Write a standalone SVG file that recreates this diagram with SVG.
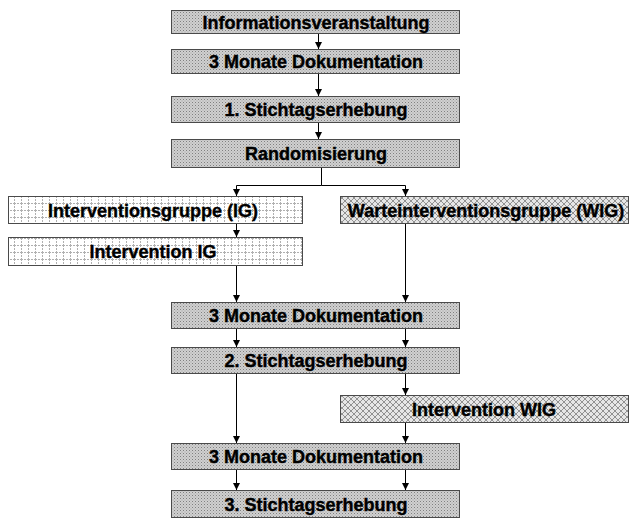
<svg xmlns="http://www.w3.org/2000/svg" width="629" height="519" viewBox="0 0 629 519">
<defs>
<pattern id="dots" width="3" height="3" patternUnits="userSpaceOnUse">
<rect width="3" height="3" fill="#d0d0d0"/>
<rect x="0" y="0" width="1" height="1" fill="#808080"/>
<rect x="1.5" y="1.5" width="1" height="1" fill="#a0a0a0"/>
</pattern>
<pattern id="grid" width="7" height="7" patternUnits="userSpaceOnUse">
<rect width="7" height="7" fill="#ffffff"/>
<path d="M0 0.5H7M0.5 0V7" stroke="#b0b0b0" stroke-width="1" stroke-dasharray="2 1"/>
</pattern>
<pattern id="cross" width="6" height="6" patternUnits="userSpaceOnUse">
<rect width="6" height="6" fill="#e6e6e6"/>
<path d="M0 0L6 6M6 0L0 6" stroke="#888888" stroke-width="0.9"/>
</pattern>
<marker id="ah" viewBox="0 0 10 10" refX="10" refY="5" markerWidth="7" markerHeight="7" markerUnits="userSpaceOnUse" orient="auto">
<path d="M0 0L10 5L0 10Z" fill="#000"/>
</marker>
<style>
.box{stroke:#4a4a4a;stroke-width:1}
.g{fill:url(#dots)}
.ig{fill:url(#grid)}
.wig{fill:url(#cross)}
text{font-family:"Liberation Sans",Arial,sans-serif;font-weight:bold;font-size:18px;fill:#000;text-anchor:middle;stroke:#000;stroke-width:0.4}
.c{fill:none;stroke:#000;stroke-width:1}
</style>
</defs>
<g id="n1"><rect class="box g" x="171.5" y="10.5" width="288" height="23"/><text x="316" y="28.5">Informationsveranstaltung</text></g>
<g id="n2"><rect class="box g" x="171.5" y="49.5" width="288" height="24"/><text x="316" y="68">3 Monate Dokumentation</text></g>
<g id="n3"><rect class="box g" x="171.5" y="96.5" width="288" height="26"/><text x="316" y="116">1. Stichtagserhebung</text></g>
<g id="n4"><rect class="box g" x="171.5" y="139.5" width="288" height="28"/><text x="316" y="160">Randomisierung</text></g>
<g id="n5"><rect class="box ig" x="8.5" y="196.5" width="294" height="27"/><text x="153" y="217">Interventionsgruppe (IG)</text></g>
<g id="n6"><rect class="box wig" x="340.5" y="196.5" width="288" height="27"/><text x="486" y="217">Warteinterventionsgruppe (WIG)</text></g>
<g id="n7"><rect class="box ig" x="8.5" y="237.5" width="294" height="28"/><text x="153" y="258">Intervention IG</text></g>
<g id="n8"><rect class="box g" x="171.5" y="302.5" width="288" height="26"/><text x="316" y="322">3 Monate Dokumentation</text></g>
<g id="n9"><rect class="box g" x="171.5" y="347.5" width="288" height="26"/><text x="316" y="367">2. Stichtagserhebung</text></g>
<g id="n10"><rect class="box wig" x="340.5" y="395.5" width="288" height="27"/><text x="484" y="416">Intervention WIG</text></g>
<g id="n11"><rect class="box g" x="171.5" y="443.5" width="288" height="26"/><text x="316" y="463">3 Monate Dokumentation</text></g>
<g id="n12"><rect class="box g" x="171.5" y="490.5" width="288" height="27"/><text x="316" y="511">3. Stichtagserhebung</text></g>
<g id="connectors">
<path class="c" d="M318.5 34V49" marker-end="url(#ah)"/>
<path class="c" d="M318.5 74V96" marker-end="url(#ah)"/>
<path class="c" d="M318.5 123V139" marker-end="url(#ah)"/>
<path class="c" d="M321.5 168V185.5H236.5V196" marker-end="url(#ah)"/>
<path class="c" d="M321.5 185.5H405.5V196" marker-end="url(#ah)"/>
<path class="c" d="M236.5 224V237" marker-end="url(#ah)"/>
<path class="c" d="M236.5 266V302" marker-end="url(#ah)"/>
<path class="c" d="M405.5 224V302" marker-end="url(#ah)"/>
<path class="c" d="M236.5 329V347" marker-end="url(#ah)"/>
<path class="c" d="M405.5 329V347" marker-end="url(#ah)"/>
<path class="c" d="M236.5 374V443" marker-end="url(#ah)"/>
<path class="c" d="M405.5 374V395" marker-end="url(#ah)"/>
<path class="c" d="M405.5 423V443" marker-end="url(#ah)"/>
<path class="c" d="M236.5 470V490" marker-end="url(#ah)"/>
<path class="c" d="M405.5 470V490" marker-end="url(#ah)"/>
</g>
</svg>
